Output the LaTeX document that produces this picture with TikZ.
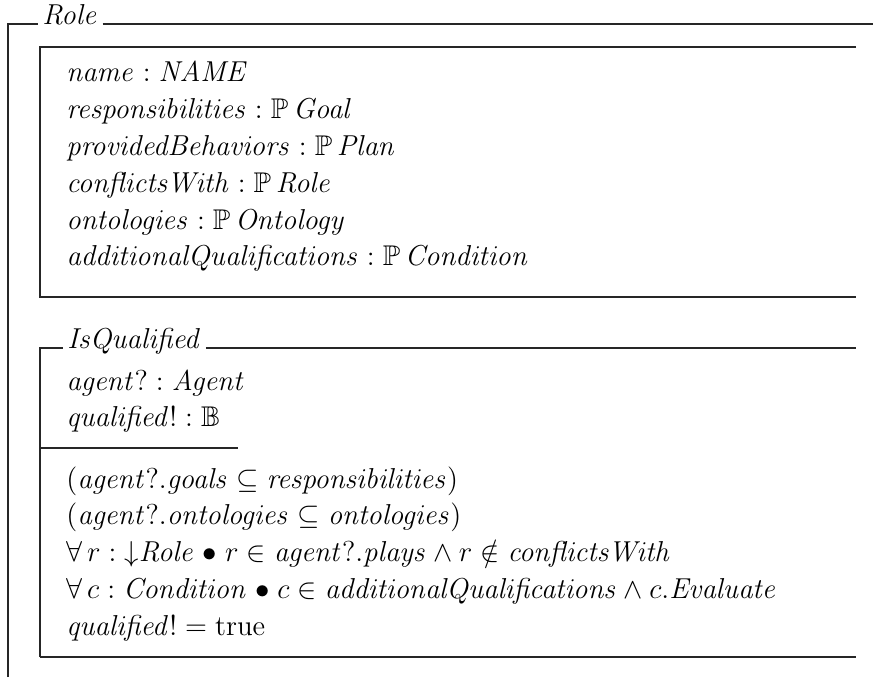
\documentclass[tikz,border=0pt]{standalone}
\usepackage{amssymb}
% identifiers of the specification, set in text italic
\newcommand{\zid}[1]{\mathit{#1}}
\begin{document}
\begin{tikzpicture}[x=0.5pt,y=-0.5pt,
  frame/.style={line width=0.85pt, black!85},
  ztext/.style={anchor=base west, inner sep=0pt, font=\fontsize{14.25}{16}\selectfont},
  ztitle/.style={anchor=base west, inner xsep=2pt, inner ysep=0pt, font=\fontsize{14.25}{16}\selectfont}]
\useasboundingbox (0,0) rectangle (873,677);

% outer schema Role
\node[ztitle] (role) at (38,24) {$\zid{Role}$};
\draw[frame] (8,677) -- (8,24) -- (role.base west);
\draw[frame] (role.base east) -- (873,24);

% state box
\draw[frame] (856,47) -- (40,47) -- (40,297) -- (856,297);
\node[ztext] (s1) at (66,81)  {$\zid{name} \mathrel{:} \zid{NAME}$};
\node[ztext] (s2) at (66,118) {$\zid{responsibilities} \mathrel{:} \mathbb{P}\, \zid{Goal}$};
\node[ztext] (s3) at (66,155) {$\zid{providedBehaviors} \mathrel{:} \mathbb{P}\, \zid{Plan}$};
\node[ztext] (s4) at (66,192) {$\zid{conflictsWith} \mathrel{:} \mathbb{P}\, \zid{Role}$};
\node[ztext] (s5) at (66,229) {$\zid{ontologies} \mathrel{:} \mathbb{P}\, \zid{Ontology}$};
\node[ztext] (s6) at (66,265) {$\zid{additionalQualifications} \mathrel{:} \mathbb{P}\, \zid{Condition}$};

% operation schema IsQualified
\node[ztitle] (isq) at (63,348) {$\zid{IsQualified}$};
\draw[frame] (40,657) -- (40,348) -- (isq.base west);
\draw[frame] (isq.base east) -- (856,348);
\node[ztext] (d1) at (66,390) {$\zid{agent}? \mathrel{:} \zid{Agent}$};
\node[ztext] (d2) at (66,426) {$\zid{qualified}! \mathrel{:} \mathbb{B}$};
\draw[frame] (40,448) -- (238,448);
\node[ztext] (p1) at (66,488) {$(\zid{agent}?.\zid{goals} \subseteq \zid{responsibilities})$};
\node[ztext] (p2) at (66,524) {$(\zid{agent}?.\zid{ontologies} \subseteq \zid{ontologies})$};
\node[ztext] (p3) at (66,561) {$\forall\, r \mathrel{:} {\downarrow} \zid{Role} \mathrel{\bullet} r \in \zid{agent}?.\zid{plays} \land r \notin \zid{conflictsWith}$};
\node[ztext] (p4) at (66,598) {$\forall\, c \mathrel{:} \zid{Condition} \mathrel{\bullet} c \in \zid{additionalQualifications} \land c.\zid{Evaluate}$};
\node[ztext] (p5) at (66,635) {$\zid{qualified}! = \mathrm{true}$};
\draw[frame] (40,657) -- (856,657);
\end{tikzpicture}
\end{document}
